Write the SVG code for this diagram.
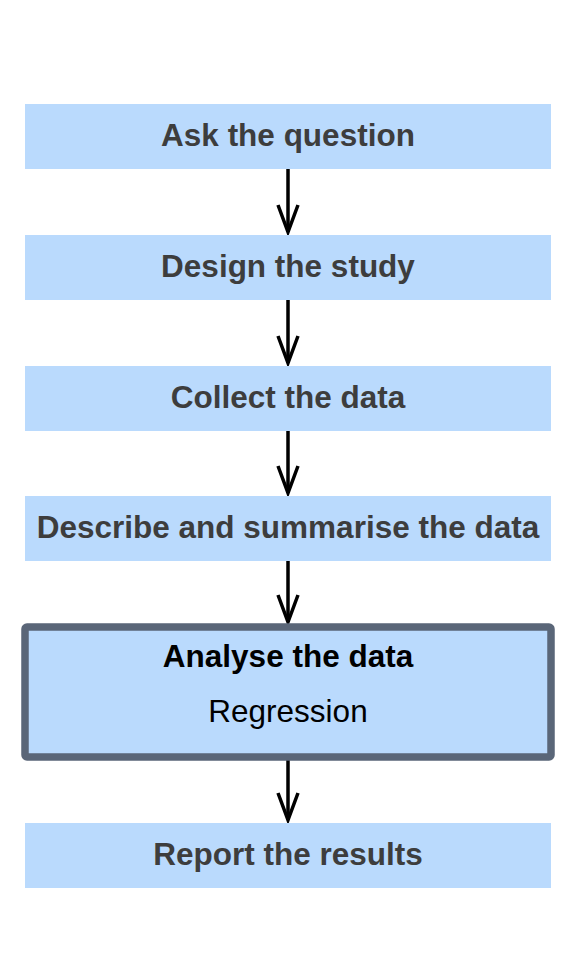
<svg xmlns="http://www.w3.org/2000/svg" width="576" height="960" viewBox="0 0 576 960">
<style>
.box{fill:#badafd;}
.hl{fill:#badafd;stroke:#5a6678;stroke-width:7.5;}
.t{font-family:"Liberation Sans",Arial,sans-serif;font-size:31.5px;font-weight:bold;fill:#3d3d3d;text-anchor:middle;}
.tb{font-family:"Liberation Sans",Arial,sans-serif;font-size:31.5px;font-weight:bold;fill:#000;text-anchor:middle;}
.tr{font-family:"Liberation Sans",Arial,sans-serif;font-size:31.5px;fill:#000;text-anchor:middle;}
.c{stroke:#000;stroke-width:3.5;fill:none;}
</style>
<defs>
<marker id="vee" markerUnits="userSpaceOnUse" markerWidth="34" markerHeight="30" refX="30" refY="15" orient="auto" viewBox="0 0 34 30">
<path d="M3 5 L30 15 L3 25" fill="none" stroke="#000" stroke-width="3.5" stroke-linejoin="miter"/>
</marker>
</defs>
<rect width="576" height="960" fill="#fff"/>
<g id="connectors">
<line class="c" x1="288" y1="168" x2="288" y2="232" marker-end="url(#vee)"/>
<line class="c" x1="288" y1="299" x2="288" y2="363" marker-end="url(#vee)"/>
<line class="c" x1="288" y1="430" x2="288" y2="493" marker-end="url(#vee)"/>
<line class="c" x1="288" y1="560" x2="288" y2="622" marker-end="url(#vee)"/>
<line class="c" x1="288" y1="758" x2="288" y2="820" marker-end="url(#vee)"/>
</g>
<g id="n1">
<rect class="box" x="25" y="104" width="526" height="65"/>
<text class="t" x="288" y="146">Ask the question</text>
</g>
<g id="n2">
<rect class="box" x="25" y="235" width="526" height="65"/>
<text class="t" x="288" y="277">Design the study</text>
</g>
<g id="n3">
<rect class="box" x="25" y="366" width="526" height="65"/>
<text class="t" x="288" y="408">Collect the data</text>
</g>
<g id="n4">
<rect class="box" x="25" y="496" width="526" height="65"/>
<text class="t" x="288" y="538">Describe and summarise the data</text>
</g>
<g id="n5">
<rect class="hl" x="25" y="627" width="526" height="130" rx="2"/>
<text class="tb" x="288" y="667">Analyse the data</text>
<text class="tr" x="288" y="722">Regression</text>
</g>
<g id="n6">
<rect class="box" x="25" y="823" width="526" height="65"/>
<text class="t" x="288" y="865">Report the results</text>
</g>
</svg>
